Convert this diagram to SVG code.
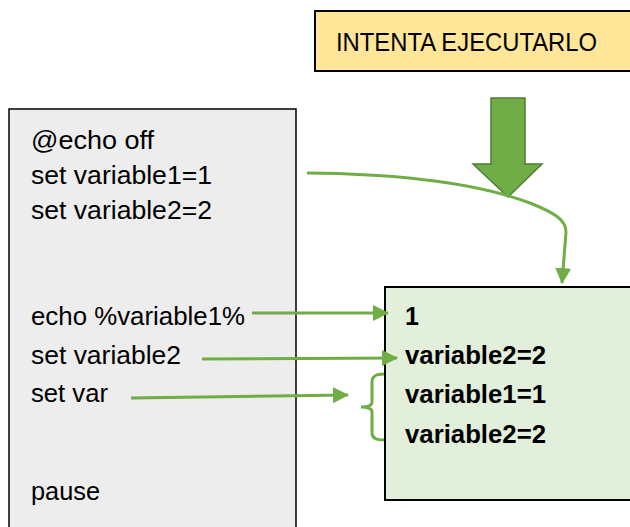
<svg xmlns="http://www.w3.org/2000/svg" width="630" height="527" viewBox="0 0 630 527">
<style>
.t{font-family:"Liberation Sans",Arial,sans-serif;font-size:25px;fill:#000}
.b{font-family:"Liberation Sans",Arial,sans-serif;font-size:25px;font-weight:bold;fill:#000}
.c{fill:none;stroke:#70AD47;stroke-width:3}
</style>
<defs>
<marker id="ah" markerUnits="userSpaceOnUse" viewBox="0 0 16 16" refX="15" refY="8" markerWidth="16" markerHeight="16" orient="auto">
<path d="M0,0 L16,8 L0,16 Z" fill="#70AD47"/>
</marker>
</defs>
<g id="title">
<rect x="315" y="11" width="330" height="60" fill="#FFE699" stroke="#000" stroke-width="2"/>
<text class="t" x="336" y="51" textLength="261" lengthAdjust="spacingAndGlyphs">INTENTA EJECUTARLO</text>
</g>
<g id="bigarrow">
<polygon points="491,98 525,98 525,164 542,164 508,197 473,164 491,164" fill="#70AD47" stroke="#507E32" stroke-width="1.5" stroke-linejoin="miter"/>
</g>
<g id="script">
<rect x="9" y="109" width="287" height="430" fill="#EDEDED" stroke="#000" stroke-width="1.5"/>
<text class="t" x="31" y="149" textLength="123" lengthAdjust="spacingAndGlyphs">@echo off</text>
<text class="t" x="31" y="184" textLength="181" lengthAdjust="spacingAndGlyphs">set variable1=1</text>
<text class="t" x="31" y="219" textLength="181" lengthAdjust="spacingAndGlyphs">set variable2=2</text>
<text class="t" x="31" y="325" textLength="214" lengthAdjust="spacingAndGlyphs">echo %variable1%</text>
<text class="t" x="31" y="364" textLength="150" lengthAdjust="spacingAndGlyphs">set variable2</text>
<text class="t" x="31" y="402" textLength="77" lengthAdjust="spacingAndGlyphs">set var</text>
<text class="t" x="31" y="500" textLength="69" lengthAdjust="spacingAndGlyphs">pause</text>
</g>
<g id="output">
<rect x="385" y="287" width="260" height="213" fill="#E2EFDA" stroke="#000" stroke-width="2"/>
<text class="b" x="405" y="325">1</text>
<text class="b" x="405" y="364" textLength="141" lengthAdjust="spacingAndGlyphs">variable2=2</text>
<text class="b" x="405" y="403" textLength="141" lengthAdjust="spacingAndGlyphs">variable1=1</text>
<text class="b" x="405" y="443" textLength="141" lengthAdjust="spacingAndGlyphs">variable2=2</text>
</g>
<g id="connectors">
<path class="c" d="M307,173 C420,174 490,188 530,203 C555,213 566,220 566,232 L562,283" marker-end="url(#ah)"/>
<path class="c" d="M252,313 L388,313" marker-end="url(#ah)"/>
<path class="c" d="M202,359 L397,358" marker-end="url(#ah)"/>
<path class="c" d="M131,398 L348,395" marker-end="url(#ah)"/>
<path class="c" stroke-width="2" d="M384,374 C376,374 372,376 372,382 L372,402 C372,405 368,407 361,407 C368,407 372,409 372,412 L372,433 C372,438 376,440 384,440"/>
</g>
</svg>
